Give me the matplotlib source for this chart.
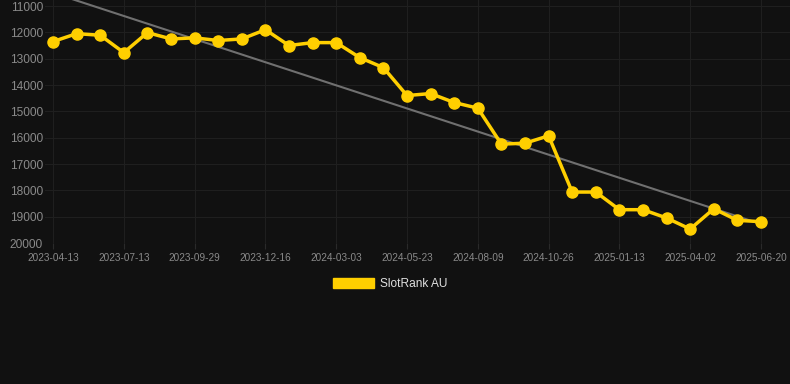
import matplotlib
import matplotlib.pyplot as plt
import numpy as np
from matplotlib.patches import Patch

matplotlib.use("Agg")

BG_COLOR = "#111111"
GRID_COLOR = "#1f1f1f"
TEXT_COLOR = "#8a8a8a"
LINE_COLOR = "#ffcf00"
TREND_COLOR = "#707070"

# SlotRank AU position, one value per sampled date (31 samples)
rank = [
    12350, 12050, 12110, 12770, 12010, 12250, 12210, 12310, 12250, 11900,
    12500, 12390, 12390, 12960, 13340, 14400, 14325, 14665, 14880, 16245,
    16210, 15930, 18065, 18065, 18735, 18735, 19050, 19470, 18700, 19140,
    19190,
]
# every third sample is labelled on the x axis
tick_labels = [
    "2023-04-13", "2023-07-13", "2023-09-29", "2023-12-16", "2024-03-03",
    "2024-05-23", "2024-08-09", "2024-10-26", "2025-01-13", "2025-04-02",
    "2025-06-20",
]
y_ticks = [11000, 12000, 13000, 14000, 15000, 16000, 17000, 18000, 19000, 20000]

plt.rcParams.update(
    {
        "font.family": ["Liberation Sans", "DejaVu Sans"],
        "figure.facecolor": BG_COLOR,
        "axes.facecolor": BG_COLOR,
    }
)

fig = plt.figure(figsize=(7.9, 3.84), dpi=100)
ax = fig.add_axes([45 / 790, (384 - 243) / 384, 745 / 790, 243 / 384])

x = np.arange(len(rank))
step = 3

# linear trend of the series
coef = np.polyfit(x, rank, 1)
ax.plot(x, np.polyval(coef, x), color=TREND_COLOR, linewidth=1.5, zorder=2)

ax.plot(
    x, rank, color=LINE_COLOR, linewidth=2.5, marker="o", markersize=8,
    markerfacecolor=LINE_COLOR, markeredgecolor=LINE_COLOR, zorder=3,
)

ax.set_xlim(-0.34, len(rank) - 1 + 1.23)
ax.set_ylim(20000, 10772)
ax.set_yticks(y_ticks)
ax.set_yticklabels([str(v) for v in y_ticks])
ax.set_xticks(x[::step])
ax.set_xticklabels(tick_labels)

ax.grid(True, color=GRID_COLOR, linewidth=0.8)
ax.set_axisbelow(True)
for spine in ax.spines.values():
    spine.set_visible(False)

ax.tick_params(axis="y", length=0, pad=1.5, labelsize=8.6, labelcolor=TEXT_COLOR)
ax.tick_params(axis="x", length=4, width=0.8, color="#2a2a2a", pad=3,
               labelsize=7.2, labelcolor=TEXT_COLOR)

handle = Patch(facecolor=LINE_COLOR, edgecolor=LINE_COLOR, label="SlotRank AU")
fig.legend(
    handles=[handle], loc="center", bbox_to_anchor=(390 / 790, 1 - 284 / 384),
    frameon=False, fontsize=8.6, labelcolor="#e0e0e0", handlelength=3.4,
    handleheight=1.0, handletextpad=0.5, borderpad=0,
)

fig.savefig("out.png", dpi=100, facecolor=BG_COLOR)
